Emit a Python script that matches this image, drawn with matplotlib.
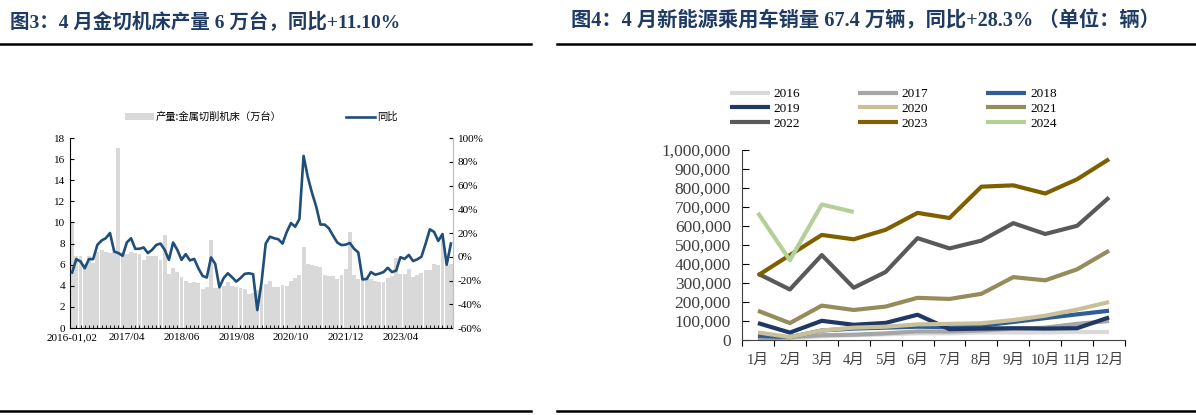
import matplotlib.pyplot as plt
import numpy as np

plt.rcParams['font.family'] = ['Liberation Serif', 'Noto Sans CJK SC']

# ---- Fig 3 data: metal cutting machine tool output (10k units) and YoY (%)
output = [10.0, 6.8, 6.8, 6.1, 6.8, 6.2, 7.2, 7.4, 7.2, 7.1, 7.2,
          17.1, 7.2, 7.0, 7.2, 7.1, 7.0, 6.4, 6.8, 6.8, 6.8, 6.4,
          8.8, 5.1, 5.7, 5.3, 4.8, 4.5, 4.3, 4.4, 4.3, 3.7, 3.9,
          8.3, 3.8, 3.8, 4.0, 4.4, 4.0, 3.9, 3.8, 3.7, 3.2, 3.3,
          3.6, 3.9, 4.2, 4.5, 3.9, 3.9, 4.1, 4.0, 4.5, 4.7, 5.0,
          7.7, 6.1, 6.0, 5.9, 5.8, 5.0, 4.9, 4.9, 4.6, 5.0, 5.6,
          9.1, 5.0, 4.6, 4.8, 4.7, 4.6, 4.5, 4.4, 4.4, 4.7, 4.9,
          6.6, 5.1, 5.1, 5.6, 4.8, 5.0, 5.2, 5.5, 5.5, 6.1, 6.0,
          9.0, 6.0, 6.1]
yoy = [-13.3, -2.0, -4.0, -9.7, -2.0, -2.0, 10.0, 13.7, 15.6, 20.0, 4.4,
       3.1, 0.8, 12.0, 15.6, 6.7, 6.7, 7.8, 3.1, 5.8, 10.0, 11.1,
       5.8, -2.6, 12.0, 5.8, -2.6, 2.2, -3.1, -1.8, -9.7, -16.1, -17.5,
       -0.6, -6.0, -25.7, -18.0, -13.9, -17.2, -20.9, -18.0, -14.4, -13.9, -14.7,
       -44.9, -21.8, 11.1, 16.9, 15.6, 14.7, 11.1, 20.9, 28.4, 25.3, 31.6,
       84.9, 67.1, 53.8, 42.2, 27.1, 27.1, 24.0, 17.8, 12.0, 9.8, 10.2,
       11.6, 6.7, 3.6, -19.1, -18.7, -12.9, -15.1, -14.2, -12.9, -9.3, -12.9,
       -11.6, -0.4, -1.8, 1.5, -3.6, -2.2, 0.0, 11.1, 23.1, 20.9, 13.3,
       19.1, -6.7, 11.1]
date_labels = ['2016-01,02', '2017/04', '2018/06', '2019/08', '2020/10', '2021/12', '2023/04']

# ---- Fig 4 data: NEV passenger car sales by month (units)
months = ['1月', '2月', '3月', '4月', '5月', '6月', '7月', '8月', '9月', '10月', '11月', '12月']
s2016 = [10000, 10000, 20000, 25000, 30000, 35000, 35000, 40000, 40000, 40000, 42000, 42000]
s2017 = [5000, 15000, 25000, 28000, 35000, 45000, 45000, 50000, 60000, 65000, 85000, 100000]
s2018 = [22000, 15000, 50000, 60000, 65000, 70000, 68000, 75000, 95000, 115000, 135000, 154000]
s2019 = [89000, 39000, 101000, 80000, 90000, 133000, 57000, 60000, 62000, 60000, 62000, 119000]
s2020 = [40000, 15000, 50000, 65000, 70000, 82000, 85000, 88000, 105000, 128000, 160000, 200000]
s2021 = [154000, 89000, 181000, 158000, 176000, 222000, 216000, 243000, 331000, 314000, 372000, 470000]
s2022 = [349000, 266000, 447000, 275000, 358000, 536000, 482000, 523000, 615000, 558000, 601000, 750000]
s2023 = [340000, 447000, 553000, 530000, 580000, 669000, 642000, 807000, 814000, 771000, 846000, 952000]
s2024 = [669000, 420000, 713000, 674000]

fig = plt.figure(figsize=(11.96, 4.15), dpi=100)
W, H = 1196, 415

def fx(px):
    return px / W

def fy(py):
    return 1 - py / H

title_color = '#1f3b63'
fig.text(fx(10), fy(21), '图3：4 月金切机床产量 6 万台，同比+11.10%', fontsize=14,
         fontweight='bold', color=title_color, va='center')
fig.text(fx(571), fy(21), '图4：4 月新能源乘用车销量 67.4 万辆，同比+28.3% （单位：辆）', fontsize=14.6,
         fontweight='bold', color=title_color, va='center')
for y in (44, 411):
    fig.add_artist(plt.Line2D([0, fx(531)], [fy(y), fy(y)], color='black', lw=1.8))
    fig.add_artist(plt.Line2D([fx(557), 1], [fy(y), fy(y)], color='black', lw=1.8))

# ---- left chart
ax1 = fig.add_axes([fx(70), fy(328), fx(453 - 70), (328 - 138) / H])
x = np.arange(len(output))
bars = ax1.bar(x, output, width=0.92, color='#d9d9d9')
ax1.set_xlim(-0.5, len(output) - 0.5)
ax1.set_ylim(0, 18)
ax1.set_yticks(range(0, 19, 2))
ax1.set_xticks(range(0, 79, 13))
ax1.set_xticklabels(date_labels)
ax1.set_xticks(x, minor=True)
ax1.tick_params(axis='both', labelsize=8, direction='in', length=3, width=0.8)
ax1.tick_params(axis='x', which='minor', direction='in', length=2.5, width=0.6)
ax1.tick_params(axis='x', which='major', length=0)
ax1.spines['top'].set_visible(False)
ax1.spines['right'].set_color('#bfbfbf')

ax2 = ax1.twinx()
line, = ax2.plot(x, yoy, color='#1f4e79', lw=1.9)
ax2.set_ylim(-60, 100)
ax2.set_yticks(range(-60, 101, 20))
ax2.set_yticklabels([f'{v}%' for v in range(-60, 101, 20)])
ax2.tick_params(axis='y', labelsize=8, direction='in', length=3, width=0.8)
ax2.spines['top'].set_visible(False)
ax2.spines['right'].set_color('#bfbfbf')
ax2.spines['left'].set_visible(False)
ax2.spines['bottom'].set_visible(False)

fig.legend([bars, line], ['产量:金属切削机床（万台）', '同比'], loc='center left',
           bbox_to_anchor=(fx(125), fy(117)), ncol=2, frameon=False,
           prop={'family': ['Noto Sans CJK SC'], 'size': 7.4}, handlelength=2.8,
           columnspacing=6.3, borderpad=0, borderaxespad=0, handletextpad=0.2)

# ---- right chart
ax3 = fig.add_axes([fx(742), fy(340), fx(1125 - 742), (340 - 150) / H])
series = [('2016', s2016, '#d9d9d9'), ('2017', s2017, '#a6a6a6'), ('2018', s2018, '#2f5d96'),
          ('2019', s2019, '#1f3864'), ('2020', s2020, '#c9c09a'), ('2021', s2021, '#968b5a'),
          ('2022', s2022, '#595959'), ('2023', s2023, '#7f6000'), ('2024', s2024, '#b4cf97')]
mx = np.arange(12) + 0.5
handles = []
for name, vals, col in series:
    h, = ax3.plot(mx[:len(vals)], vals, color=col, lw=3.0, solid_capstyle='butt')
    handles.append(h)
ax3.set_xlim(0, 12)
ax3.set_ylim(0, 1000000)
ax3.set_yticks(range(0, 1000001, 100000))
ax3.set_yticklabels([f'{v:,}' for v in range(0, 1000001, 100000)])
ax3.set_xticks(range(13))
ax3.set_xticklabels([])
ax3.set_xticks(mx, minor=True)
ax3.set_xticklabels(months, minor=True)
ax3.tick_params(axis='y', labelsize=12.5, labelcolor='#404040', direction='in', length=5, pad=8)
ax3.tick_params(axis='x', which='major', direction='out', length=4)
ax3.tick_params(axis='x', which='minor', length=0, labelsize=10.5, labelcolor='#404040', pad=10)
ax3.spines['top'].set_visible(False)
ax3.spines['right'].set_visible(False)
for s in ('left', 'bottom'):
    ax3.spines[s].set_color('#404040')

# legend filled column by column, so reorder to read row by row
order = [0, 3, 6, 1, 4, 7, 2, 5, 8]
fig.legend([handles[i] for i in order], [series[i][0] for i in order], loc='upper left',
           bbox_to_anchor=(fx(730), fy(88)), ncol=3, frameon=False,
           prop={'family': ['Liberation Serif'], 'size': 9.5}, handlelength=3.0,
           columnspacing=4.4, labelspacing=0.2, borderpad=0, borderaxespad=0,
           handletextpad=0.3)

fig.savefig('out.png', dpi=100)
